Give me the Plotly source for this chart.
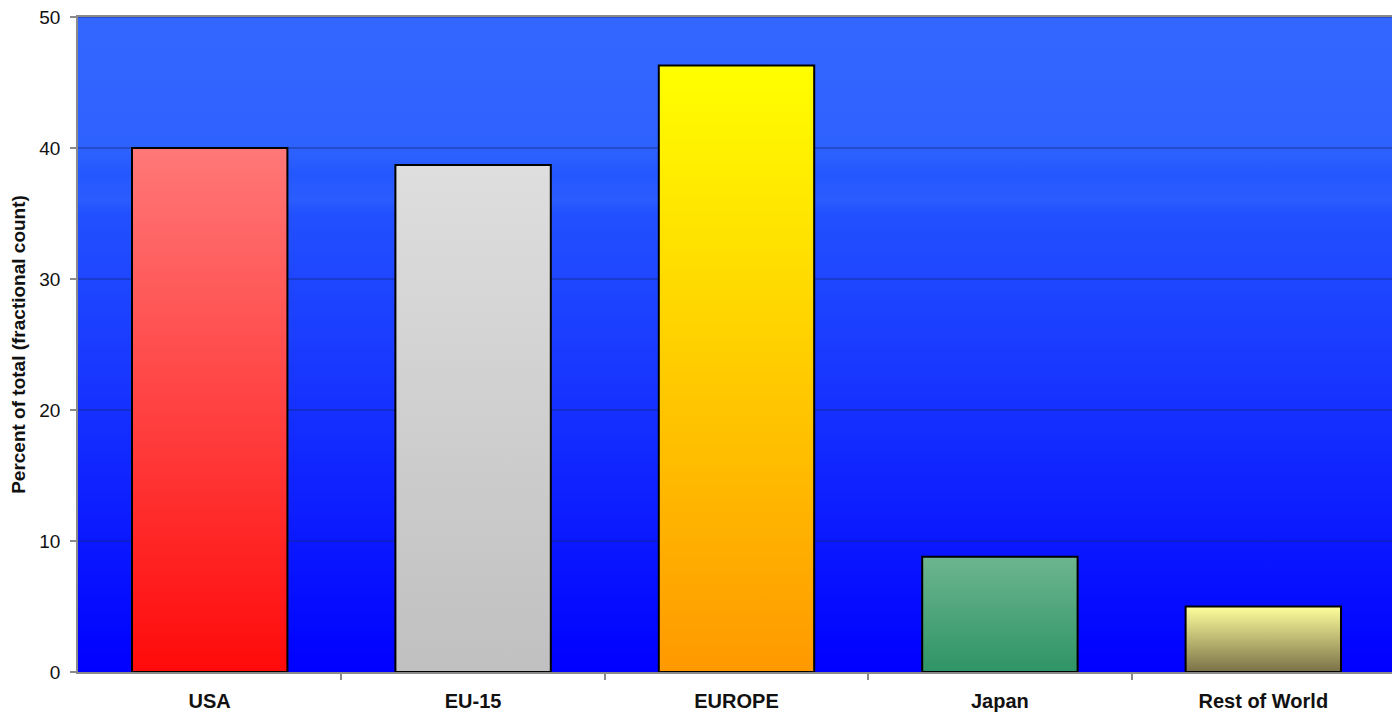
import plotly.graph_objects as go

# ── Data ──────────────────────────────────────────────────────────────────────
regions = ["USA", "EU-15", "EUROPE", "Japan", "Rest of World"]
percent = [40.0, 38.7, 46.3, 8.8, 5.0]

# gradient colours per bar: (bottom, top)
bar_colors = [
    ("#ff0a0a", "#ff7878"),
    ("#c0c0c0", "#dedede"),
    ("#ff9900", "#ffff00"),
    ("#2e9466", "#6db58f"),
    ("#7a7048", "#ffff9c"),
]
y_ticks = [0, 10, 20, 30, 40, 50]

BAR_HALF = 0.295
x_pos = list(range(len(regions)))

fig = go.Figure()

# background gradient of the plot area
fig.add_trace(go.Scatter(
    x=[-0.5, 4.5, 4.5, -0.5, -0.5], y=[0, 0, 50, 50, 0],
    fill="toself", mode="none", hoverinfo="skip", showlegend=False,
    fillgradient=dict(type="vertical",
                      colorscale=[[0, "#0000ff"], [0.5, "#1a3cff"], [0.70, "#2250ff"],
                                  [0.72, "#2a5cff"], [0.76, "#2458ff"], [0.80, "#2e62ff"],
                                  [1, "#3366ff"]]),
))

# gridlines on top of the background
gx, gy = [], []
for t in y_ticks[1:]:
    gx += [-0.5, 4.5, None]
    gy += [t, t, None]
fig.add_trace(go.Scatter(x=gx, y=gy, mode="lines", hoverinfo="skip", showlegend=False,
                         line=dict(color="rgba(20,40,120,0.75)", width=1)))

# bars drawn as filled polygons so they can carry a gradient
for i, (name, val, (c0, c1)) in enumerate(zip(regions, percent, bar_colors)):
    fig.add_trace(go.Scatter(
        x=[i - BAR_HALF, i + BAR_HALF, i + BAR_HALF, i - BAR_HALF, i - BAR_HALF],
        y=[0, 0, val, val, 0],
        fill="toself", mode="lines", name=name, showlegend=False,
        line=dict(color="#000000", width=2),
        fillgradient=dict(type="vertical", colorscale=[[0, c0], [1, c1]]),
        hovertemplate=f"{name}: {val}<extra></extra>",
    ))

fig.update_layout(
    width=1392, height=705,
    margin=dict(l=70, r=5, t=9, b=41),
    paper_bgcolor="white", plot_bgcolor="#0000ff",
    font=dict(family="Liberation Sans, Arial, sans-serif", color="#111111"),
)
fig.update_xaxes(
    range=[-0.5, 4.5], tickmode="array", tickvals=x_pos, ticktext=regions,
    ticks="", showgrid=False, zeroline=False, ticklabelstandoff=10, automargin=False,
    showline=True, linecolor="#8a8a8a", linewidth=1.5, mirror=True,
    tickfont=dict(size=20, family="Liberation Sans, Arial, sans-serif", weight="bold"),
    minor=dict(tickmode="array", tickvals=[i + 0.5 for i in x_pos[:-1]],
               ticks="outside", ticklen=6, tickcolor="#8a8a8a", tickwidth=1.5),
    fixedrange=True,
)
fig.update_yaxes(
    range=[0, 50], tickmode="array", tickvals=y_ticks,
    ticks="outside", ticklen=6, tickcolor="#8a8a8a", tickwidth=1.5,
    showgrid=False, zeroline=False, ticklabelstandoff=6, automargin=False,
    ticklabeloverflow="allow",
    showline=True, linecolor="#8a8a8a", linewidth=1.5, mirror=True,
    tickfont=dict(size=19),
    title=dict(text="Percent of total (fractional count)", standoff=10,
               font=dict(size=19, weight="bold")),
    fixedrange=True,
)

fig.write_html("out.html")
